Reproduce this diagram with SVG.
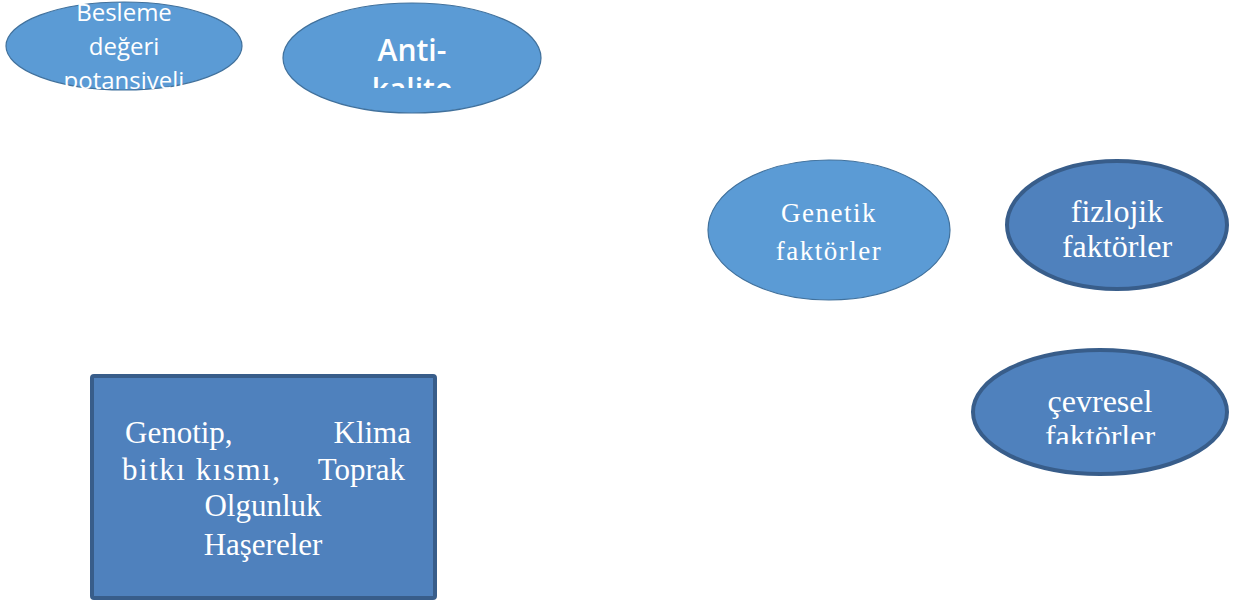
<svg xmlns="http://www.w3.org/2000/svg" width="1235" height="603" viewBox="0 0 1235 603">
<style>
.light{fill:#5b9bd5;stroke:#41719c;stroke-width:1.2}
.dark{fill:#4f81bd;stroke:#385d8a;stroke-width:4}
.sans{font-family:"Open Sans","Liberation Sans",sans-serif;fill:#fff;text-anchor:middle}
.serif{font-family:"Liberation Serif",serif;fill:#fff;text-anchor:middle}
</style>
<defs>
<clipPath id="c1"><rect x="0" y="0" width="260" height="89"/></clipPath>
<clipPath id="c2"><rect x="280" y="0" width="270" height="88"/></clipPath>
<clipPath id="c3"><rect x="960" y="340" width="275" height="104"/></clipPath>
</defs>
<rect width="1235" height="603" fill="#fff"/>
<g id="connectors"></g>
<g id="besleme">
<ellipse class="light" cx="124" cy="46" rx="118" ry="44"/>
<g clip-path="url(#c1)" class="sans" font-size="24">
<text x="124" y="21">Besleme</text>
<text x="124" y="55">değeri</text>
<text x="124" y="89">potansiyeli</text>
</g>
</g>
<g id="antikalite">
<ellipse class="light" cx="412" cy="58" rx="129" ry="55"/>
<g clip-path="url(#c2)" class="sans" font-size="30" font-weight="600">
<text x="412" y="61">Anti-</text>
<text x="412" y="100">kalite</text>
</g>
</g>
<g id="genetik">
<ellipse class="light" cx="829" cy="230" rx="121" ry="70"/>
<text class="serif" font-size="27" x="829" y="222" letter-spacing="1.5">Genetik</text>
<text class="serif" font-size="27" x="829" y="260" letter-spacing="1.5">faktörler</text>
</g>
<g id="fizlojik">
<ellipse class="dark" cx="1117" cy="225" rx="110" ry="64"/>
<text class="serif" font-size="32" x="1117" y="222">fizlojik</text>
<text class="serif" font-size="32" x="1117" y="257">faktörler</text>
</g>
<g id="cevresel">
<ellipse class="dark" cx="1100" cy="412" rx="127" ry="62"/>
<g clip-path="url(#c3)" class="serif" font-size="32">
<text x="1100" y="412">çevresel</text>
<text x="1100" y="447">faktörler</text>
</g>
</g>
<g id="faktorler-kutu">
<rect class="dark" x="92" y="376" width="343" height="222" rx="2"/>
<g class="serif" font-size="31">
<text x="125" y="443" text-anchor="start">Genotip,</text>
<text x="411" y="443" text-anchor="end">Klima</text>
<text x="122" y="480" text-anchor="start" textLength="158">bitkı kısmı,</text>
<text x="405" y="480" text-anchor="end">Toprak</text>
<text x="263" y="516">Olgunluk</text>
<text x="263" y="555">Haşereler</text>
</g>
</g>
</svg>
